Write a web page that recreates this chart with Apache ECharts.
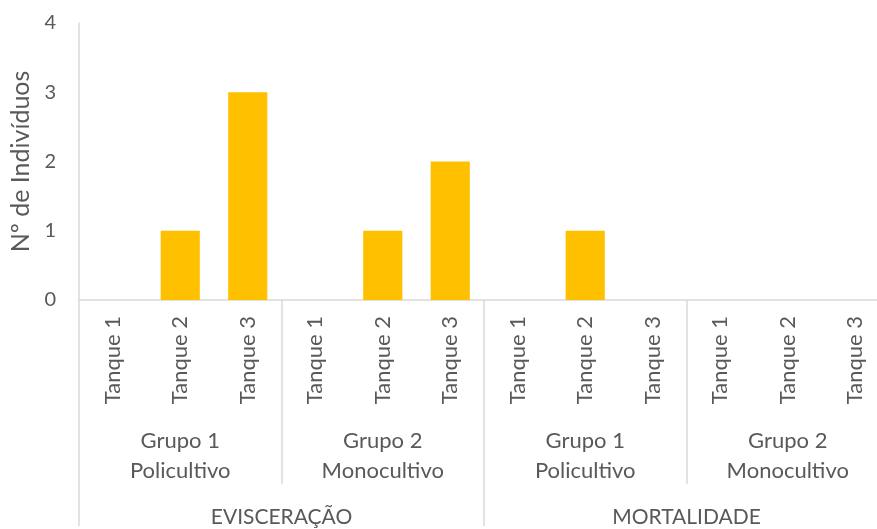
<!DOCTYPE html>
<html>
<head>
<meta charset="utf-8">
<script src="https://cdn.jsdelivr.net/npm/echarts@6/dist/echarts.min.js"></script>
<style>
html,body{margin:0;padding:0;background:#fff;overflow:hidden;width:877px;height:529px;position:relative;}
#c{position:absolute;left:0;top:0;width:890px;height:529px;}
</style>
</head>
<body>
<div id="c"></div>
<script>
const tanques = ['Tanque 1','Tanque 2','Tanque 3','Tanque 1','Tanque 2','Tanque 3','Tanque 1','Tanque 2','Tanque 3','Tanque 1','Tanque 2','Tanque 3'];
const grupos = ['Grupo 1\nPolicultivo','Grupo 2\nMonocultivo','Grupo 1\nPolicultivo','Grupo 2\nMonocultivo'];
const tipos = ['EVISCERAÇÃO','MORTALIDADE'];
const valores = [0,1,3,0,1,2,0,1,0,0,0,0];
const yTicks = [0,1,2,3,4];

const FONT = 'Lato';
const TXT = '#595959';
const LINE = '#d9d9d9';

const chart = echarts.init(document.getElementById('c'), null, {renderer:'canvas'});
chart.setOption({
  animation:false,
  backgroundColor:'#fff',
  grid:{left:79, right:1, top:23, bottom:226, containLabel:false},
  xAxis:[
    {type:'category', data:tanques, position:'bottom',
     axisLine:{show:true, lineStyle:{color:LINE, width:1.5}},
     axisTick:{show:false},
     axisLabel:{interval:0, rotate:90, margin:16, color:TXT, fontFamily:FONT, fontSize:22}},
    {type:'category', data:grupos, position:'bottom', gridIndex:0,
     axisLine:{show:false},
     axisTick:{show:true, length:184, lineStyle:{color:LINE, width:1.5}},
     axisLabel:{interval:0, margin:126, color:TXT, fontFamily:FONT, fontSize:22, lineHeight:30}},
    {type:'category', data:tipos, position:'bottom', gridIndex:0,
     axisLine:{show:false},
     axisTick:{show:true, length:226, lineStyle:{color:LINE, width:1.5}},
     axisLabel:{interval:0, margin:205, color:TXT, fontFamily:FONT, fontSize:21, lineHeight:24}}
  ],
  yAxis:{type:'value', min:yTicks[0], max:yTicks[yTicks.length-1], interval:1,
    name:'Nº de Indivíduos', nameLocation:'middle', nameRotate:90, nameGap:44,
    nameTextStyle:{color:TXT, fontFamily:FONT, fontSize:25},
    axisLine:{show:true, lineStyle:{color:LINE, width:1.5}},
    axisTick:{show:false},
    splitLine:{show:false},
    axisLabel:{margin:23, color:TXT, fontFamily:FONT, fontSize:20}},
  series:[{type:'bar', data:valores, xAxisIndex:0, barWidth:'58%',
    itemStyle:{color:'#FFC000'}}]
});
</script>
</body>
</html>
